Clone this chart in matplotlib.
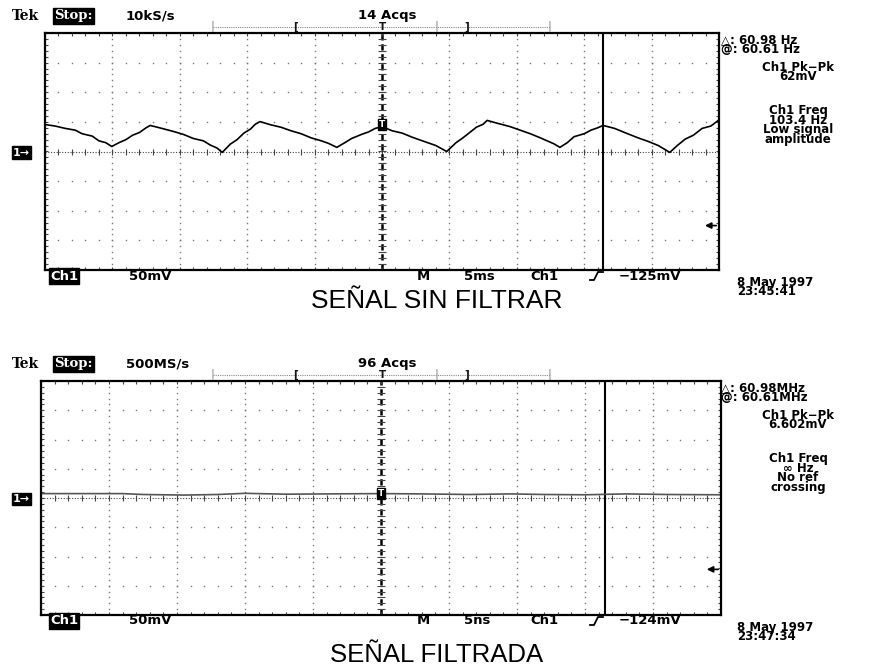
import numpy as np
import matplotlib
matplotlib.use("Agg")
import matplotlib.pyplot as plt
from matplotlib.lines import Line2D

W, H = 871, 671

# ---- data (screen divisions: x 0..10, y -4..4) ----
raw_x = [0, 0.15, 0.3, 0.45, 0.55, 0.7, 0.8, 0.9, 0.99, 1.1, 1.2, 1.3, 1.4, 1.5, 1.56,
         1.7, 1.9, 2.05, 2.2, 2.35, 2.45, 2.55, 2.63, 2.75, 2.85, 2.95, 3.05, 3.12, 3.19,
         3.35, 3.5, 3.65, 3.8, 3.95, 4.1, 4.2, 4.33, 4.45, 4.55, 4.7, 4.8, 4.9, 5.0,
         5.15, 5.3, 5.45, 5.6, 5.8, 5.96, 6.1, 6.2, 6.3, 6.4, 6.5, 6.56, 6.7, 6.9, 7.05,
         7.2, 7.35, 7.45, 7.55, 7.64, 7.75, 7.85, 8.0, 8.1, 8.2, 8.28, 8.45, 8.6, 8.8,
         8.95, 9.1, 9.27, 9.38, 9.5, 9.62, 9.75, 9.88, 9.99]
raw_y = [0.91, 0.86, 0.78, 0.72, 0.6, 0.52, 0.36, 0.3, 0.17, 0.3, 0.4, 0.55, 0.64, 0.8, 0.88,
         0.8, 0.68, 0.58, 0.44, 0.36, 0.22, 0.12, -0.03, 0.25, 0.4, 0.62, 0.76, 0.92, 1.01,
         0.9, 0.82, 0.7, 0.6, 0.46, 0.36, 0.28, 0.14, 0.3, 0.44, 0.58, 0.66, 0.78, 0.84,
         0.7, 0.62, 0.48, 0.36, 0.2, 0.0, 0.3, 0.46, 0.64, 0.82, 0.92, 1.05, 0.96, 0.84, 0.72,
         0.6, 0.46, 0.36, 0.26, 0.14, 0.3, 0.5, 0.6, 0.72, 0.8, 0.88, 0.78, 0.64, 0.46,
         0.34, 0.2, -0.03, 0.2, 0.42, 0.55, 0.78, 0.86, 1.05]

filt_x = [0, 1.2, 1.5, 1.8, 2.1, 2.6, 3.0, 3.6, 4.2, 5.0, 5.6, 6.3, 6.9, 7.4, 8.0, 8.6, 9.2, 10]
filt_y = [0.15, 0.15, 0.12, 0.11, 0.1, 0.12, 0.16, 0.13, 0.14, 0.15, 0.14, 0.12, 0.14, 0.12,
          0.11, 0.14, 0.12, 0.11]

panels = [
    {"trace_x": raw_x, "trace_y": raw_y, "trace_color": "black",
     "box": (45, 33, 719, 270), "cursor": 8.28, "trig_y": 0.91, "arrow_y": -2.5,
     "rate": "10kS/s", "acqs": "14 Acqs",
     "cursors": "\u25b3: 60.98 Hz\n@: 60.61 Hz",
     "pk": "Ch1 Pk\u2212Pk\n62mV",
     "freq": "Ch1 Freq\n103.4 Hz\nLow signal\namplitude",
     "scale": "50mV", "tb": "5ms", "level": "\u2212125mV",
     "stamp": "8 May 1997\n23:45:41",
     "title": "SEÑAL SIN FILTRAR"},
    {"trace_x": filt_x, "trace_y": filt_y, "trace_color": "#555555",
     "box": (41, 381, 721, 615), "cursor": 8.29, "trig_y": 0.15, "arrow_y": -2.44,
     "rate": "500MS/s", "acqs": "96 Acqs",
     "cursors": "\u25b3: 60.98MHz\n@: 60.61MHz",
     "pk": "Ch1 Pk\u2212Pk\n6.602mV",
     "freq": "Ch1 Freq\n\u221e Hz\nNo ref\ncrossing",
     "scale": "50mV", "tb": "5ns", "level": "\u2212124mV",
     "stamp": "8 May 1997\n23:47:34",
     "title": "SEÑAL FILTRADA"},
]


def fx(x):
    return x / W


def fy(y):
    return 1 - y / H


fig = plt.figure(figsize=(W / 100, H / 100), dpi=100)
fig.patch.set_facecolor("white")

row = dict(family="DejaVu Sans", weight="bold", fontsize=9.5, color="black")
info = dict(family="DejaVu Sans", weight="bold", fontsize=8.5, color="black",
            linespacing=0.68)
grid_c = "#777777"
tick_c = "#444444"

for p in panels:
    x0, y0, x1, y1 = p["box"]
    ax = fig.add_axes([fx(x0), fy(y1), (x1 - x0) / W, (y1 - y0) / H])
    ax.set_xlim(0, 10)
    ax.set_ylim(-4, 4)
    ax.set_xticks([])
    ax.set_yticks([])
    for s in ax.spines.values():
        s.set_linewidth(1.6)

    # graticule dots
    xs = np.arange(0, 10.001, 0.2)
    ys = np.arange(-4, 4.001, 0.2)
    for gx in [1, 2, 3, 4, 6, 7, 8, 9]:
        ax.plot(np.full(len(ys), gx), ys, "s", ms=1.0, color=grid_c, mew=0)
    for gy in [-3, -2, -1, 1, 2, 3]:
        ax.plot(xs, np.full(len(xs), gy), "s", ms=1.0, color=grid_c, mew=0)

    # center crosshair
    ax.axhline(0, color=tick_c, lw=0.8, ls=(0, (1, 1.5)))
    ax.plot(xs, np.zeros(len(xs)), "|", ms=5, mew=0.8, color=tick_c)
    ax.axvline(5, color="black", lw=1.8, ls=(0, (2.5, 1.5)))
    ax.plot(np.full(len(ys), 5), ys, "_", ms=6, mew=0.8, color=tick_c)

    # border ticks
    ax.plot(xs, np.full(len(xs), 4), "|", ms=4, mew=0.8, color=tick_c)
    ax.plot(xs, np.full(len(xs), -4), "|", ms=4, mew=0.8, color=tick_c)
    ax.plot(np.zeros(len(ys)), ys, "_", ms=4, mew=0.8, color=tick_c)
    ax.plot(np.full(len(ys), 10), ys, "_", ms=4, mew=0.8, color=tick_c)

    # cursor line
    ax.axvline(p["cursor"], color="black", lw=1.5)

    # trace
    ax.plot(p["trace_x"], p["trace_y"], color=p["trace_color"], lw=1.2)

    # trigger position marker
    ax.text(5, p["trig_y"], "T", ha="center", va="center", fontsize=6.5, color="white",
            weight="bold", bbox=dict(boxstyle="square,pad=0.15", fc="black", ec="black"),
            zorder=5)

    # trigger level arrow
    ax.annotate("", xy=(9.75, p["arrow_y"]), xytext=(10.0, p["arrow_y"]),
                arrowprops=dict(arrowstyle="-|>", color="black", lw=1.2,
                                mutation_scale=9))

    # record bar above the screen
    bar_y = y0 - 6
    bar = Line2D([fx(213), fx(550)], [fy(bar_y), fy(bar_y)], transform=fig.transFigure,
                 color="#888888", lw=0.8, ls=(0, (1, 1)))
    fig.add_artist(bar)
    for bx, ch in [(213, "|"), (295, "["), (382, "T"), (437, "|"), (467, "]"), (550, "|")]:
        fig.text(fx(bx), fy(bar_y), ch, ha="center", va="center", fontsize=7.5,
                 weight="bold", color="#111111" if ch != "|" else "#999999")

    # header
    hy = y0 - 17
    fig.text(fx(12), fy(hy), "Tek", family="DejaVu Serif", weight="bold", fontsize=10,
             va="center", ha="left")
    fig.text(fx(54), fy(hy), "Stop:", family="DejaVu Serif", weight="bold", fontsize=9.5,
             va="center", ha="left", color="white",
             bbox=dict(boxstyle="square,pad=0.08", fc="black", ec="black"))
    fig.text(fx(126), fy(hy), p["rate"], va="center", ha="left", **row)
    fig.text(fx(387), fy(hy), p["acqs"], va="center", ha="center", **row)

    # channel ground marker
    fig.text(fx(13), fy((y0 + y1) / 2 + 1), "1\u2192", va="center", ha="left", fontsize=8,
             weight="bold", color="white",
             bbox=dict(boxstyle="square,pad=0.1", fc="black", ec="black"))

    # readouts on the right
    fig.text(fx(721), fy(y0 + 12), p["cursors"], va="center", ha="left", **info)
    fig.text(fx(798), fy(y0 + 39), p["pk"], va="center", ha="center", multialignment="center",
             **info)
    fig.text(fx(798), fy(y0 + 92), p["freq"], va="center", ha="center",
             multialignment="center", **info)

    # bottom status row
    ry = y1 + 6
    fig.text(fx(50), fy(ry), "Ch1", va="center", ha="left", fontsize=9.5, weight="bold",
             color="white", bbox=dict(boxstyle="square,pad=0.08", fc="black", ec="black"))
    fig.text(fx(129), fy(ry), p["scale"], va="center", ha="left", **row)
    fig.text(fx(417), fy(ry), "M", va="center", ha="left", **row)
    fig.text(fx(464), fy(ry), p["tb"], va="center", ha="left", **row)
    fig.text(fx(530), fy(ry), "Ch1", va="center", ha="left", **row)
    slope = Line2D([fx(590), fx(594), fx(598), fx(603)],
                   [fy(ry + 4), fy(ry + 4), fy(ry - 4), fy(ry - 4)],
                   transform=fig.transFigure, color="black", lw=1.3)
    fig.add_artist(slope)
    fig.text(fx(619), fy(ry), p["level"], va="center", ha="left", **row)
    fig.text(fx(737), fy(y1 + 17), p["stamp"], va="center", ha="left", **info)

# titles
fig.text(fx(437), fy(301), panels[0]["title"], ha="center", va="center",
         family=["Liberation Sans", "DejaVu Sans"], fontsize=19)
fig.text(fx(437), fy(655), panels[1]["title"], ha="center", va="center",
         family=["Liberation Sans", "DejaVu Sans"], fontsize=18.5)

fig.savefig("out.png", dpi=100, facecolor="white")
